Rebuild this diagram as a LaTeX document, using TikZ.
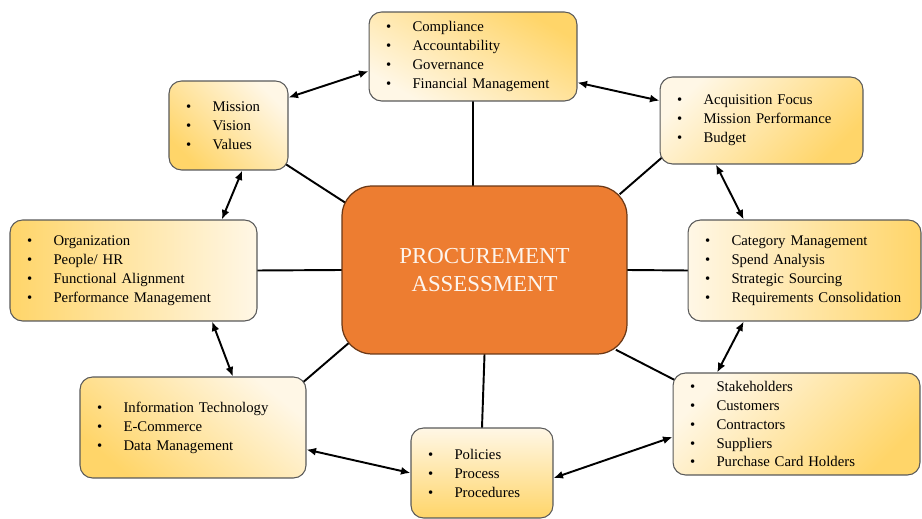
\documentclass[tikz,border=0pt]{standalone}
\usepackage{fontspec}
\setmainfont{Liberation Serif}
\usepackage{tikz}
\usetikzlibrary{arrows.meta, backgrounds}
\definecolor{boxdark}{RGB}{255,213,105}
\definecolor{boxlight}{RGB}{255,247,230}
\definecolor{hub}{RGB}{237,125,49}
\newcommand*{\itm}[1]{\mbox{\makebox[0.53cm][l]{\textbullet}#1}}

\begin{document}
\begin{tikzpicture}[
      x=0.02cm, y=-0.02cm, >={Latex[length=1.9mm,width=1.6mm]},
      box/.style={draw=black!65, line width=0.6pt, rounded corners=0.25cm,
        top color=boxdark, bottom color=boxlight, inner xsep=0.34cm, inner ysep=0pt,
        align=left, font=\fontsize{8.4}{10.8}\selectfont},
      link/.style={line width=1.1pt, shorten <=-6pt, shorten >=-6pt},
      pair/.style={<->, line width=1.1pt}
      ]
  \useasboundingbox (0,0) rectangle (922,519);

  \node[draw=black!55!hub, line width=0.7pt, fill=hub, rounded corners=0.6cm,
        minimum width=5.7cm, minimum height=3.36cm, text=white!92!hub,
        align=center, font=\fontsize{13}{16}\selectfont]
        (main) at (484.5,270) {PROCUREMENT\\ASSESSMENT};

  \node[box, text width=3.48cm, minimum height=1.78cm, shading angle=-30] (comp) at (473,56.5)
        {\itm{Compliance}\\\itm{Accountability}\\\itm{Governance}\\\itm{Financial Management}};
  \node[box, text width=1.70cm, minimum height=1.78cm, shading angle=135] (miss) at (228.5,125.5)
        {\itm{Mission}\\\itm{Vision}\\\itm{Values}};
  \node[box, text width=3.38cm, minimum height=1.74cm, shading angle=-135] (acq) at (761.5,120.5)
        {\itm{Acquisition Focus}\\\itm{Mission Performance}\\\itm{Budget}};
  \node[box, text width=4.26cm, minimum height=2.02cm, shading angle=90] (org) at (133.5,270.5)
        {\itm{Organization}\\\itm{People/ HR}\\\itm{Functional Alignment}\\\itm{Performance Management}};
  \node[box, text width=3.98cm, minimum height=2.02cm, shading angle=-90] (cat) at (804.5,270.5)
        {\itm{Category Management}\\\itm{Spend Analysis}\\\itm{Strategic Sourcing}\\\itm{Requirements Consolidation}};
  \node[box, text width=3.84cm, minimum height=2.02cm, shading angle=140] (it) at (193,427.5)
        {\itm{Information Technology}\\\itm{E-Commerce}\\\itm{Data Management}};
  \node[box, text width=2.16cm, minimum height=1.80cm, shading angle=180] (pol) at (482,473)
        {\itm{Policies}\\\itm{Process}\\\itm{Procedures}};
  \node[box, text width=4.26cm, minimum height=2.04cm, shading angle=-135] (stk) at (796.5,424)
        {\itm{Stakeholders}\\\itm{Customers}\\\itm{Contractors}\\\itm{Suppliers}\\\itm{Purchase Card Holders}};

  % spokes from the hub
  \begin{scope}[on background layer]
    \draw[link] (main.154) -- (miss.-34);
    \draw[link] (comp.south) -- (comp.south |- main.north);
    \draw[link] (main.30) -- (acq.201);
    \draw[link] (org.east) -- (main.west);
    \draw[link] (main.east) -- (cat.west);
    \draw[link] (main.209) -- (it.23);
    \draw[link] (main.south) -- (pol.north);
    \draw[link] (main.-31) -- (stk.160);
  \end{scope}

  % ring of two-way arrows
  \draw[pair] (miss.25) -- (comp.188);
  \draw[pair] (comp.-14) -- (acq.169);
  \draw[pair] (acq.-136) -- (cat.140);
  \draw[pair] (cat.220) -- (stk.147);
  \draw[pair] (stk.186) -- (pol.-4);
  \draw[pair] (pol.west) -- (it.-11);
  \draw[pair] (it.52) -- (org.-33);
  \draw[pair] (org.30) -- (miss.-73);
\end{tikzpicture}
\end{document}
